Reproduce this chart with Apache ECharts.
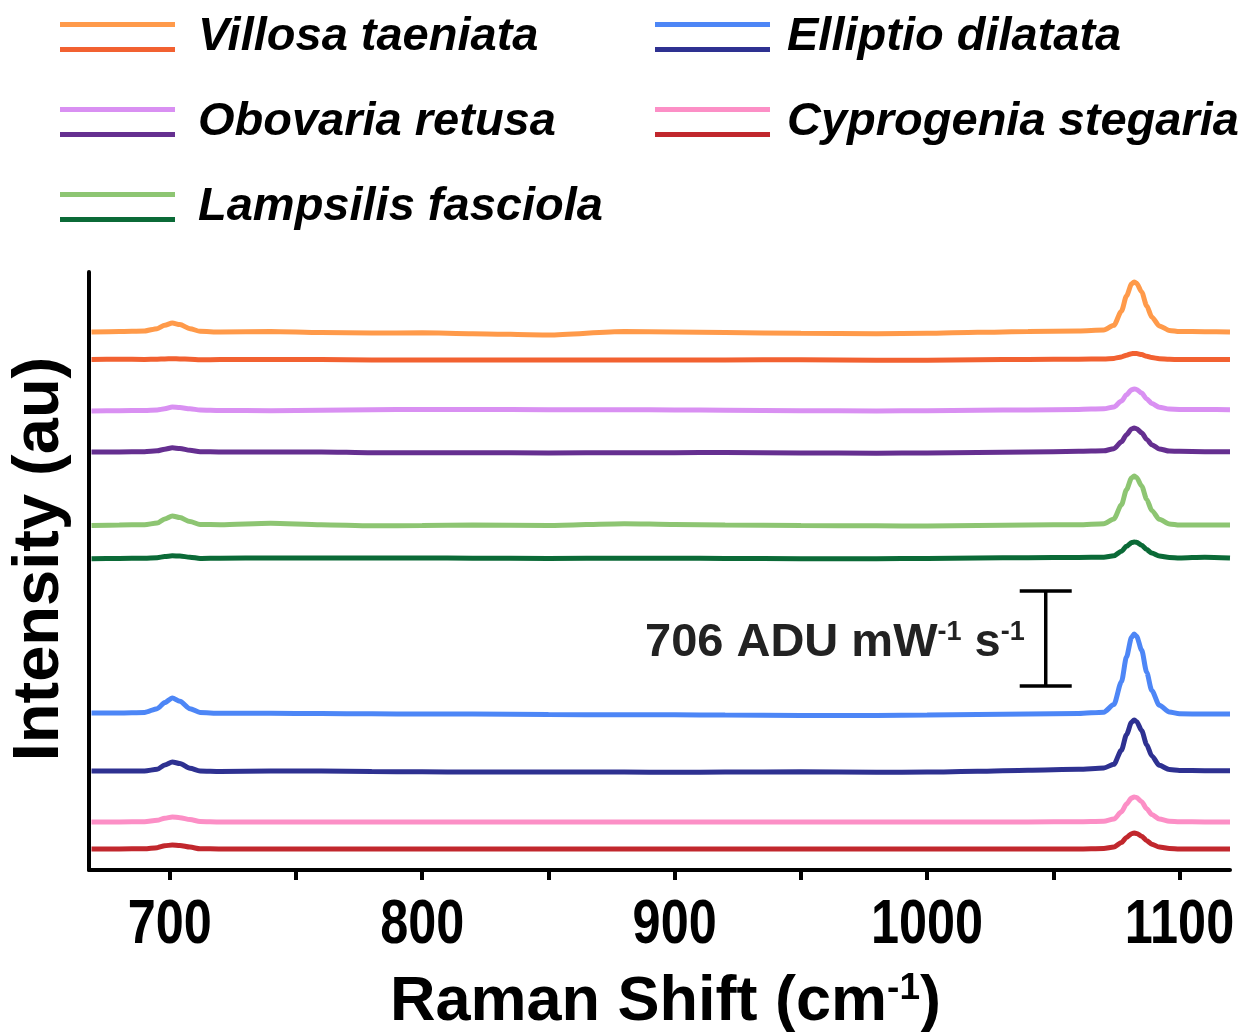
<!DOCTYPE html>
<html>
<head>
<meta charset="utf-8">
<script src="https://cdn.jsdelivr.net/npm/echarts@6/dist/echarts.min.js"></script>
<style>
  html, body { margin: 0; padding: 0; background: #fff; }
  #chart { width: 1244px; height: 1032px; }
</style>
</head>
<body>
<div id="chart"></div>
<script>
// Raman shift sample positions (cm-1), shared by every spectrum
const shifts = [669, 680, 690, 695, 698, 701, 704, 708, 712, 720, 740, 760, 780, 800, 820, 850, 880, 900, 920, 950,
  980, 1000, 1020, 1040, 1060, 1070, 1074, 1077, 1079, 1081, 1082, 1083, 1085, 1087, 1089, 1092, 1096, 1100, 1110, 1120]

const species = ['Villosa taeniata', 'Obovaria retusa', 'Lampsilis fasciola', 'Elliptio dilatata', 'Cyprogenia stegaria']

// vertical offsets of the stacked traces (ADU mW-1 s-1)
const offsets = [3998, 3794, 3419, 3107, 2564, 2319, 1159, 736, 357, 156]

// intensity above each trace's offset, one value per entry of shifts
const villosaLight = [0, 4, 8, 25, 50, 67, 55, 25, 5, 0, 4, -4, -8, -6, -12, -22, 4, 0, -4, -10,
  -12, -10, -2, 4, 8, 15, 50, 155, 268, 357, 372, 362, 298, 195, 112, 45, 12, 4, 2, 0]
const villosaDark = [0, 2, 0, 2, 4, 6, 4, 2, -3, 0, 0, 0, -4, -4, -4, -4, -4, -4, -4, -2,
  -6, -6, -2, 0, 2, 4, 8, 19, 32, 43, 45, 44, 36, 24, 14, 6, 1, 0, 0, 0]
const obovariaLight = [-8, -6, -4, 0, 8, 22, 18, 8, 0, -4, -6, -2, 2, 4, 4, 2, 2, 0, -2, -6,
  -8, -6, -2, 0, 4, 8, 22, 66, 112, 150, 156, 152, 125, 82, 48, 20, 6, 4, 4, 2]
const obovariaDark = [0, 0, 2, 8, 20, 30, 26, 12, 2, 0, 0, 0, -6, -6, -6, -8, -6, -6, -4, -8,
  -10, -8, -4, 0, 4, 8, 24, 75, 128, 171, 178, 173, 142, 93, 54, 22, 6, 4, 2, 2]
const lampsilisLight = [-4, 0, 2, 14, 45, 67, 55, 25, 4, 2, 12, 2, -6, -4, 0, -4, 10, 4, 0, -4,
  -6, -8, -4, 0, 2, 10, 45, 150, 262, 350, 364, 353, 290, 190, 108, 42, 8, 0, 0, 0]
const lampsilisDark = [-6, -4, -2, 2, 10, 16, 14, 6, -4, -2, 0, 0, 0, 0, -2, -4, -2, -2, -4, -6,
  -6, -4, 0, 2, 4, 6, 16, 50, 86, 114, 119, 116, 95, 62, 36, 14, 4, 0, 6, 0]
const ellipLight = [8, 8, 12, 40, 85, 120, 95, 40, 12, 5, 5, 4, 2, 0, 0, -4, -6, -6, -8, -10,
  -10, -8, -4, 0, 4, 14, 70, 240, 425, 570, 595, 578, 475, 310, 175, 65, 15, 2, 0, 0]
const ellipDark = [0, 0, 0, 12, 45, 67, 55, 20, 0, -4, 0, 0, -4, -6, -8, -8, -8, -10, -8, -6,
  -10, -8, -2, 6, 12, 22, 50, 155, 270, 362, 379, 368, 300, 195, 112, 42, 10, 4, 2, 2]
const cyproLight = [0, 0, 2, 12, 28, 37, 32, 18, 4, 0, 0, 0, 0, 0, 0, 0, 0, 0, 0, 0,
  0, 0, 0, 0, 2, 6, 22, 75, 133, 178, 186, 181, 150, 98, 56, 22, 6, 2, 0, 0]
const cyproDark = [0, 0, 2, 10, 24, 30, 26, 14, 2, 0, 0, 0, 0, 0, 0, 0, 0, 0, 0, 0,
  0, 0, 0, 0, 0, 4, 15, 48, 86, 114, 119, 116, 95, 62, 36, 14, 4, 0, 0, 0]

const spectra = [villosaLight, villosaDark, obovariaLight, obovariaDark, lampsilisLight,
  lampsilisDark, ellipLight, ellipDark, cyproLight, cyproDark]
const colors = ['#ff9a4a', '#f26131', '#d990f2', '#652f90', '#8dc572', '#0b6a37',
  '#4d86f6', '#2e3191', '#fc8fc6', '#c1272d']

// scale bar: x position, lower end and length in ADU mW-1 s-1
const scaleBarX = 1047
const scaleBarLow = 1367
const scaleBarValue = 706

const xTicks = [700, 750, 800, 850, 900, 950, 1000, 1050, 1100]
const xLabels = [700, 800, 900, 1000, 1100]

const FONT = 'Liberation Sans, Arial, sans-serif'

const chart = echarts.init(document.getElementById('chart'), null, { renderer: 'canvas' })

const legendIcon = (light, dark, width) => {
  const svg = `<svg xmlns="http://www.w3.org/2000/svg" width="${width}" height="30" viewBox="0 0 ${width} 30">` +
    `<rect x="0" y="0" width="115" height="5" fill="${light}"/>` +
    `<rect x="0" y="25" width="115" height="5" fill="${dark}"/></svg>`
  return 'image://data:image/svg+xml;charset=utf-8,' + encodeURIComponent(svg)
}

const legendText = {
  fontFamily: FONT,
  fontWeight: 'bold',
  fontStyle: 'italic',
  fontSize: 47,
  lineHeight: 50,
  color: '#000',
}

const lineSeries = spectra.map((values, i) => ({
  name: species[Math.floor(i / 2)],
  type: 'line',
  symbol: 'none',
  smooth: 0.25,
  smoothMonotone: 'x',
  color: colors[i],
  lineStyle: { width: 5, color: colors[i] },
  emphasis: { disabled: true },
  z: 2,
  data: shifts.map((x, j) => [x, offsets[i] + values[j]]),
}))

// tick labels in a narrow bold face (the original uses a condensed font)
const tickLabelSeries = {
  type: 'custom',
  silent: true,
  clip: false,
  z: 5,
  data: xLabels.map((v) => [v, 0]),
  renderItem: (params, api) => {
    const pos = api.coord([api.value(0), api.value(1)])
    return {
      type: 'text',
      x: pos[0],
      y: pos[1] + 24,
      scaleX: 0.8,
      style: {
        x: 0,
        y: 0,
        text: String(api.value(0)),
        align: 'center',
        verticalAlign: 'top',
        fontFamily: FONT,
        fontWeight: 'bold',
        fontSize: 63,
        fill: '#000',
      },
    }
  },
}

const scaleBarSeries = {
  type: 'custom',
  silent: true,
  clip: false,
  z: 5,
  data: [[scaleBarX, scaleBarLow, scaleBarLow + scaleBarValue]],
  renderItem: (params, api) => {
    const bottom = api.coord([api.value(0), api.value(1)])
    const top = api.coord([api.value(0), api.value(2)])
    const half = 26
    const stroke = { stroke: '#000', lineWidth: 3.5 }
    return {
      type: 'group',
      children: [
        { type: 'line', shape: { x1: top[0], y1: top[1], x2: bottom[0], y2: bottom[1] }, style: stroke },
        { type: 'line', shape: { x1: top[0] - half, y1: top[1], x2: top[0] + half, y2: top[1] }, style: stroke },
        { type: 'line', shape: { x1: bottom[0] - half, y1: bottom[1], x2: bottom[0] + half, y2: bottom[1] }, style: stroke },
        {
          type: 'text',
          style: {
            x: top[0] - 21,
            y: (top[1] + bottom[1]) / 2 + 4,
            align: 'right',
            verticalAlign: 'middle',
            text: '{a|' + scaleBarValue + ' ADU mW}{s|-1}{a| s}{s|-1}',
            rich: {
              a: { fontFamily: FONT, fontWeight: 'bold', fontSize: 47, lineHeight: 48, fill: '#222', verticalAlign: 'bottom' },
              s: { fontFamily: FONT, fontWeight: 'bold', fontSize: 27, lineHeight: 48, fill: '#222', verticalAlign: 'top' },
            },
          },
        },
      ],
    }
  },
}

chart.setOption({
  animation: false,
  backgroundColor: '#fff',
  legend: [
    {
      left: 60,
      top: 12,
      padding: 0,
      orient: 'vertical',
      selectedMode: false,
      itemWidth: 133,
      itemHeight: 30,
      itemGap: 35,
      textStyle: legendText,
      data: [0, 1, 2].map((k) => ({ name: species[k], icon: legendIcon(colors[2 * k], colors[2 * k + 1], 133) })),
    },
    {
      left: 655,
      top: 12,
      padding: 0,
      orient: 'vertical',
      selectedMode: false,
      itemWidth: 127,
      itemHeight: 30,
      itemGap: 35,
      textStyle: legendText,
      data: [3, 4].map((k) => ({ name: species[k], icon: legendIcon(colors[2 * k], colors[2 * k + 1], 127) })),
    },
  ],
  grid: {
    left: 89,
    right: 14,
    top: 272,
    bottom: 162,
    containLabel: false,
    outerBoundsMode: 'none',
  },
  xAxis: {
    type: 'value',
    min: 668,
    max: 1120,
    name: '{t|Raman Shift (cm}{s|-1}{t|)}',
    nameLocation: 'middle',
    nameGap: 100,
    nameTextStyle: {
      padding: [0, 0, 0, 12],
      rich: {
        t: { fontFamily: FONT, fontWeight: 'bold', fontSize: 63, lineHeight: 64, color: '#000', verticalAlign: 'bottom' },
        s: { fontFamily: FONT, fontWeight: 'bold', fontSize: 37, lineHeight: 64, color: '#000', verticalAlign: 'top' },
      },
    },
    axisLine: { show: true, onZero: false, lineStyle: { color: '#000', width: 4 } },
    axisTick: { show: true, length: 10, customValues: xTicks, lineStyle: { color: '#000', width: 4 } },
    axisLabel: { show: false },
    splitLine: { show: false },
  },
  yAxis: {
    type: 'value',
    min: 0,
    max: 4444,
    name: 'Intensity (au)',
    nameLocation: 'middle',
    nameGap: 16,
    nameRotate: 90,
    nameTextStyle: {
      fontFamily: FONT,
      fontWeight: 'bold',
      fontSize: 65,
      color: '#000',
      padding: [0, 0, 0, 24],
    },
    axisLine: { show: true, lineStyle: { color: '#000', width: 4 } },
    axisTick: { show: false },
    axisLabel: { show: false },
    splitLine: { show: false },
  },
  series: [...lineSeries, tickLabelSeries, scaleBarSeries],
})
</script>
</body>
</html>
